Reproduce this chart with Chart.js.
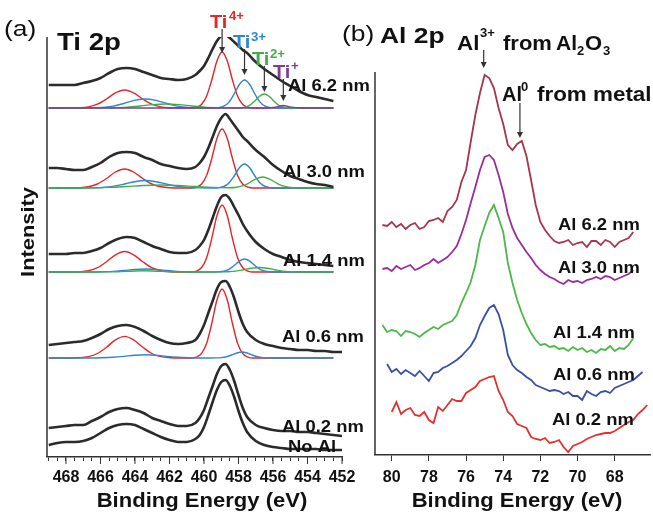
<!DOCTYPE html>
<html lang="en">
<head>
<meta charset="UTF-8" />
<title>Ti 2p / Al 2p XPS</title>
<script src="https://cdn.jsdelivr.net/npm/chart.js"></script>
<style>
  body { margin:0; background:#fff; width:653px; height:512px; overflow:hidden; position:relative; }
  #wrapA { position:absolute; left:0; top:0; width:380px; height:512px; }
  #wrapB { position:absolute; left:340px; top:0; width:313px; height:512px; }
</style>
</head>
<body>
<div id="wrapA"><canvas id="tiChart" width="380" height="512"></canvas></div>
<div id="wrapB"><canvas id="alChart" width="313" height="512"></canvas></div>

<script>
  // ---------- (a) Ti 2p : measured spectra, offset for each Al thickness ----------
  const TI_E = [469,468.5,468,467.5,467,466.5,466,465.5,465,464.5,464,463.5,463,462.5,462,461.5,461,460.5,
    460.25,460,459.75,459.5,459.25,459,458.75,458.5,458.25,458,457.75,457.5,
    457,456.5,456,455.5,455,454.5,454,453.5,453,452.5,452];

  const ti62 = [372,372,372,372,374,376,379,384,388,389,388,385,382,379,378,377,378,382,386,391,399,408,416,421,422,419,415,411,407,404,395,388,382,376,371,366,362,360,358,356,null];
  const ti30 = [289,289,288,287,287,290,294,300,304,305,304,300,297,293,291,289,288,290,294,300,309,320,331,339,343,338,332,326,320,316,307,300,292,286,281,278,275,273,272,270,null];
  const ti14 = [203,203,203,204,204,206,209,214,218,220,219,215,211,208,205,204,204,207,211,217,227,239,251,260,262,258,250,242,233,226,215,208,203,200,197,195,194,193,192,191,null];
  const ti06 = [112,113,114,115,116,119,123,128,131,132,130,126,121,117,114,113,114,117,123,132,144,156,168,175,176,170,159,145,133,125,117,113,111,109,108,107,107,106,106,105,105];
  const ti02 = [29,30,31,32,32,36,40,45,48,49,47,44,39,36,33,31,31,34,39,47,59,71,83,91,93,87,76,62,49,40,32,29,27,26,26,25,25,24,23,22,21];
  const tiNoAl = [12,14,15,15,16,19,24,29,32,33,32,28,24,20,17,15,15,18,22,30,42,55,67,75,77,71,60,46,34,25,16,12,10,9,8,8,8,8,7,7,7];

  // fitted components [energy, intensity]
  const fit62Red = [[469,349],[467.75,349],[467.23,349.2],[466.7,350.1],[466.18,352.8],[465.65,358],[465.13,364.1],[464.6,367],[464.08,364.1],[463.55,358],[463.03,352.8],[462.5,350.1],[461.98,349.2],[461.45,349],[460.75,349],[460.45,349.7],[460.15,352.5],[459.85,360.8],[459.55,377],[459.25,396],[458.95,405],[458.65,396],[458.35,377],[458.05,360.8],[457.75,352.5],[457.45,349.7],[457.15,349],[452.5,349]];
  const fit62Blue = [[469,349],[467.15,349],[466.53,349.1],[465.9,349.6],[465.28,350.9],[464.65,353.5],[464.03,356.6],[463.4,358],[462.78,356.6],[462.15,353.5],[461.53,350.9],[460.9,349.6],[460.28,349.1],[459.65,349],[459.45,349],[459.15,349.4],[458.85,350.8],[458.55,354.9],[458.25,363],[457.95,372.5],[457.65,377],[457.35,372.5],[457.05,363],[456.75,354.9],[456.45,350.8],[456.15,349.4],[455.85,349],[452.5,349]];
  const fit62Green = [[469,349],[466.7,349],[465.95,349.1],[465.2,349.3],[464.45,349.8],[463.7,351],[462.95,352.4],[462.2,353],[461.45,352.4],[460.7,351],[459.95,349.8],[459.2,349.3],[458.45,349.1],[458.15,349],[457.88,349.2],[457.6,349.9],[457.33,351.9],[457.05,356],[456.78,360.8],[456.5,363],[456.23,360.8],[455.95,356],[455.68,351.9],[455.4,349.9],[455.13,349.2],[454.85,349],[452.5,349]];
  const fit62Purple = [[469,349],[456.6,349],[456.3,349.2],[456,349.6],[455.7,350.4],[455.4,351.5],[455.1,350.4],[454.8,349.6],[454.5,349.2],[454.2,349],[452.5,349]];

  const fit30Red = [[469,269],[467.75,269],[467.23,269.2],[466.7,270.2],[466.18,273],[465.65,278.5],[465.13,285],[464.6,288],[464.08,285],[463.55,278.5],[463.03,273],[462.5,270.2],[461.98,269.2],[461.45,269],[460.75,269],[460.45,269.8],[460.15,272.7],[459.85,281.4],[459.55,298.5],[459.25,318.6],[458.95,328],[458.65,318.6],[458.35,298.5],[458.05,281.4],[457.75,272.7],[457.45,269.8],[457.15,269],[452.5,269]];
  const fit30Blue = [[469,269],[467.15,269],[466.53,269.1],[465.9,269.5],[465.28,270.6],[464.65,272.8],[464.03,275.3],[463.4,276.5],[462.78,275.3],[462.15,272.8],[461.53,270.6],[460.9,269.5],[460.28,269.1],[459.65,269],[459.45,269],[459.15,269.3],[458.85,270.5],[458.55,274],[458.25,281],[457.95,289.2],[457.65,293],[457.35,289.2],[457.05,281],[456.75,274],[456.45,270.5],[456.15,269.3],[455.85,269],[452.5,269]];
  const fit30Green = [[469,269],[467.5,269],[466.5,269.2],[465.5,269.6],[464.5,270.5],[463.5,271.5],[462.5,272],[461.5,271.5],[460.5,270.5],[459.5,269.6],[458.5,269.3],[458.1,269.8],[457.73,271.3],[457.35,274.5],[456.98,278.2],[456.6,280],[456.23,278.2],[455.85,274.5],[455.48,271.3],[455.1,269.7],[454.73,269.1],[454.35,269],[452.5,269]];

  const fit14Red = [[469,185],[467.75,185],[467.23,185.3],[466.7,186.3],[466.18,189.3],[465.65,195.3],[465.13,202.2],[464.6,205.5],[464.08,202.2],[463.55,195.3],[463.03,189.3],[462.5,186.3],[461.98,185.3],[461.45,185],[460.75,185],[460.45,185.9],[460.15,189.2],[459.85,199.1],[459.55,218.5],[459.25,241.3],[458.95,252],[458.65,241.3],[458.35,218.5],[458.05,199.1],[457.75,189.2],[457.45,185.9],[457.15,185],[452.5,185]];
  const fit14Blue = [[469,185],[467.15,185],[466.53,185],[465.9,185.2],[465.28,185.6],[464.65,186.5],[464.03,187.5],[463.4,188],[462.78,187.5],[462.15,186.5],[461.53,185.6],[460.9,185.2],[460.28,185],[459.65,185],[459.45,185],[459.15,185.2],[458.85,185.8],[458.55,187.7],[458.25,191.5],[457.95,195.9],[457.65,198],[457.35,195.9],[457.05,191.5],[456.75,187.7],[456.45,185.8],[456.15,185.2],[455.85,185],[452.5,185]];
  const fit14Green = [[469,185],[466.5,185],[465.75,185.1],[465,185.3],[464.25,185.8],[463.5,186.3],[462.75,185.8],[462,185.3],[461.25,185.1],[460.5,185],[459.5,185],[459.05,185.1],[458.6,185.3],[458.15,185.9],[457.7,187.3],[457.25,188.8],[456.8,189.5],[456.35,188.8],[455.9,187.3],[455.45,185.9],[455,185.3],[454.55,185.1],[454.1,185],[452.5,185]];

  const fit06Red = [[469,99],[467.75,99],[467.23,99.3],[466.7,100.4],[466.18,103.5],[465.65,109.8],[465.13,117.1],[464.6,120.6],[464.08,117.1],[463.55,109.8],[463.03,103.5],[462.5,100.4],[461.98,99.3],[461.45,99],[460.75,99],[460.45,99.9],[460.15,103.3],[459.85,113.5],[459.55,133.5],[459.25,157],[458.95,168],[458.65,157],[458.35,133.5],[458.05,113.5],[457.75,103.3],[457.45,99.9],[457.15,99],[452.5,99]];
  const fit06Blue = [[469,99],[467.15,99],[466.53,99],[465.9,99.2],[465.28,99.7],[464.65,100.6],[464.03,101.8],[463.4,102.3],[462.78,101.8],[462.15,100.6],[461.53,99.7],[460.9,99.2],[460.28,99],[459.9,99],[459.6,99],[459.3,99.1],[459,99.4],[458.7,100.3],[458.4,102],[458.1,104],[457.8,105],[457.5,104],[457.2,102],[456.9,100.3],[456.6,99.4],[456.3,99.1],[456,99],[452.5,99]];

  const TI_TICKS = [468,466,464,462,460,458,456,454,452];

  // ---------- (b) Al 2p ----------
  const AL_E = [80.75,80.5,80.25,80,79.75,79.5,79.25,79,78.75,78.5,78.25,78,77.75,77.5,77.25,77,76.75,76.5,76.25,76,
    75.75,75.5,75.25,75,74.75,74.5,74.25,74,73.75,73.5,73.25,73,72.75,72.5,72.25,72,71.75,71.5,71.25,71,
    70.75,70.5,70.25,70,69.75,69.5,69.25,69,68.75,68.5,68.25,68,67.75,67.5,67.25,67,66.75,66.5,66.25];

  const al62 = [null,230,229,233,228,231,226,230,232,226,228,234,235,237,233,244,248,255,273,285,313,340,362,380,377,367,347,331,310,305,311,314,299,275,250,233,225,219,214,212,213,215,210,212,213,208,214,214,210,215,213,208,213,215,217,223,null,null,null];
  const al30 = [null,186,187,184,189,186,188,190,185,187,190,192,196,192,195,198,203,209,221,235,252,268,285,298,300,295,280,263,241,227,217,210,203,197,190,185,181,178,176,173,171,175,173,174,172,175,176,178,176,179,178,175,177,179,181,185,null,null,null];
  const al14 = [null,130,123,125,124,119,124,123,121,118,122,125,128,126,130,132,134,140,152,162,173,190,215,229,242,250,237,223,192,172,155,142,131,122,115,110,111,108,109,106,107,104,108,105,107,103,105,102,106,105,109,104,107,106,110,117,null,null,null];
  const al06 = [null,null,91,83,86,81,85,82,79,84,79,74,82,83,87,89,92,95,99,104,109,117,130,139,147,150,141,125,100,90,85,82,78,75,70,68,66,64,65,64,61,63,59,59,55,64,61,59,63,64,62,67,69,71,73,75,79,83,null];
  const al02 = [null,null,null,43,53,41,45,47,40,39,43,35,32,48,44,50,56,54,54,62,65,68,74,76,78,79,64,55,43,39,31,29,27,18,16,15,17,12,13,15,8,3,9,11,13,16,18,20,21,22,22,24,27,30,33,35,41,45,50];

  const AL_TICKS = [80,78,76,74,72,70,68];

  // ---------- helpers ----------
  const FONT = '"Liberation Sans", Arial, sans-serif';
  const xy = (xs, ys) => xs.map((x, i) => ({ x: x, y: ys[i] }));
  const pairs = arr => arr.map(p => ({ x: p[0], y: p[1] }));

  function txt(ctx, s, x, y, size, bold, color, sx, align, rot) {
    ctx.save();
    ctx.font = (bold ? 'bold ' : '') + size + 'px ' + FONT;
    ctx.fillStyle = color || '#111';
    ctx.textAlign = align || 'left';
    ctx.textBaseline = 'alphabetic';
    ctx.translate(x, y);
    if (rot) ctx.rotate(rot);
    ctx.scale(sx || 1, 1);
    ctx.fillText(s, 0, 0);
    ctx.restore();
  }
  function line(ctx, x1, y1, x2, y2, color, w) {
    ctx.save();
    ctx.strokeStyle = color; ctx.lineWidth = w;
    ctx.beginPath(); ctx.moveTo(x1, y1); ctx.lineTo(x2, y2); ctx.stroke();
    ctx.restore();
  }
  function arrow(ctx, x, y1, y2) {
    line(ctx, x, y1, x, y2 - 5, '#333', 1.2);
    ctx.save();
    ctx.fillStyle = '#333';
    ctx.beginPath(); ctx.moveTo(x - 3, y2 - 6); ctx.lineTo(x + 3, y2 - 6); ctx.lineTo(x, y2); ctx.closePath(); ctx.fill();
    ctx.restore();
  }

  function spec(data, color, w, order, smooth) {
    return { data: data, borderColor: color, borderWidth: w, order: order, pointRadius: 0,
             tension: smooth ? 0.4 : 0, cubicInterpolationMode: smooth ? 'monotone' : 'default', spanGaps: false };
  }

  const RED = '#e3262a', BLUE = '#2e86cf', GREEN = '#3fae49', PURPLE = '#7d3c98', INK = '#2b2b2b';

  // ---------- chart (a) ----------
  const tiDecor = {
    id: 'tiDecor',
    afterDraw(chart) {
      const { ctx, chartArea: a, scales: { x } } = chart;
      line(ctx, a.left, a.top, a.left, a.bottom, '#333', 1.5);
      TI_TICKS.forEach(v => { const px = x.getPixelForValue(v); line(ctx, px, a.bottom, px, a.bottom + 7, '#333', 1); });

      txt(ctx, '(a)', 4, 36, 22, false, '#111', 1.2);
      txt(ctx, 'Ti 2p', 57, 50, 23, true, '#111', 1.2);

      txt(ctx, 'Ti', 210, 28, 19, true, RED, 1.05);    txt(ctx, '4+', 229, 20, 12, true, RED, 1.1);
      txt(ctx, 'Ti', 233, 48, 19, true, BLUE, 1.05);   txt(ctx, '3+', 251, 41, 12, true, BLUE, 1.1);
      txt(ctx, 'Ti', 252, 65, 19, true, GREEN, 1.05);  txt(ctx, '2+', 270, 58, 12, true, GREEN, 1.1);
      txt(ctx, 'Ti', 273, 78, 19, true, PURPLE, 1.05); txt(ctx, '+', 291, 70, 12, true, PURPLE, 1.1);

      arrow(ctx, x.getPixelForValue(458.95), 29, 53);
      arrow(ctx, x.getPixelForValue(457.65), 49, 75);
      arrow(ctx, x.getPixelForValue(456.5), 66, 92);
      arrow(ctx, x.getPixelForValue(455.4), 79, 101);

      [['Al 6.2 nm', 288, 91], ['Al 3.0 nm', 283, 177], ['Al 1.4 nm', 283, 266],
       ['Al 0.6 nm', 282, 342], ['Al 0.2 nm', 282, 432], ['No Al', 288, 452]]
        .forEach(l => txt(ctx, l[0], l[1], l[2], 16, true, '#111', 1.15));

      txt(ctx, 'Binding Energy (eV)', 202, 507, 21, true, '#111', 1.05, 'center');
      txt(ctx, 'Intensity', 34, 232, 19, true, '#111', 1.15, 'center', -Math.PI / 2);
    }
  };

  const tiSets = [];
  const addTi = (d, c, w, smooth) => tiSets.push(spec(d, c, w, 0, smooth));
  [[fit62Red, fit62Blue, fit62Green, fit62Purple], [fit30Red, fit30Blue, fit30Green],
   [fit14Red, fit14Blue, fit14Green], [fit06Red, fit06Blue]].forEach(set => {
    const cols = [RED, BLUE, GREEN, PURPLE];
    set.forEach((f, i) => addTi(pairs(f), cols[i], 1.4, true));
  });
  [ti62, ti30, ti14, ti06, ti02, tiNoAl].forEach(s => addTi(xy(TI_E, s), INK, 2.6, true));
  tiSets.forEach((d, i) => { d.order = tiSets.length - i; });

  new Chart(document.getElementById('tiChart'), {
    type: 'line',
    data: { datasets: tiSets },
    options: {
      responsive: false, animation: false,
      layout: { padding: { left: 47, right: 38, top: 37, bottom: 0 }, autoPadding: false },
      plugins: { legend: { display: false }, tooltip: { enabled: false } },
      scales: {
        x: {
          type: 'linear', reverse: true, min: 452, max: 469.1,
          afterFit: s => { s.height = 55; },
          border: { display: true, color: '#333', width: 1.5 },
          grid: { drawOnChartArea: false, drawTicks: true, tickLength: 4, tickColor: '#333', tickWidth: 1 },
          ticks: { stepSize: 0.5, autoSkip: false, maxRotation: 0, includeBounds: false, padding: 7, color: '#111',
                   font: { family: FONT, size: 16, weight: 'bold' },
                   callback: v => (TI_TICKS.includes(v) ? v : '') }
        },
        y: { display: false, min: 0, max: 420 }
      }
    },
    plugins: [tiDecor]
  });

  // ---------- chart (b) ----------
  const alDecor = {
    id: 'alDecor',
    afterDraw(chart) {
      const { ctx, chartArea: a, scales: { x } } = chart;
      const o = 340; // canvas offset on the page
      line(ctx, a.left, a.top, a.left, a.bottom, '#333', 1.5);

      txt(ctx, '(b)', 342 - o, 41, 22, false, '#111', 1.2);
      txt(ctx, 'Al 2p', 380 - o, 43, 22, true, '#111', 1.2);

      txt(ctx, 'Al', 457 - o, 50, 20, true, '#111', 1.12);
      txt(ctx, '3+', 480 - o, 37, 13, true, '#111', 1.0);
      txt(ctx, 'from', 503 - o, 50, 20, true, '#111', 1.1);
      txt(ctx, 'Al', 556 - o, 50, 20, true, '#111', 1.05);
      txt(ctx, '2', 577 - o, 55, 13, true, '#111', 1.0);
      txt(ctx, 'O', 585 - o, 50, 20, true, '#111', 1.1);
      txt(ctx, '3', 603 - o, 55, 13, true, '#111', 1.0);

      txt(ctx, 'Al', 502 - o, 101, 20, true, '#111', 1.0);
      txt(ctx, '0', 521 - o, 91, 13, true, '#111', 1.0);
      txt(ctx, 'from metal', 537 - o, 101, 20, true, '#111', 1.12);

      arrow(ctx, x.getPixelForValue(75.05), 50, 68);
      arrow(ctx, x.getPixelForValue(73.1), 103, 138);

      [['Al 6.2 nm', 558, 230], ['Al 3.0 nm', 558, 273], ['Al 1.4 nm', 553, 338],
       ['Al 0.6 nm', 553, 380], ['Al 0.2 nm', 552, 425]]
        .forEach(l => txt(ctx, l[0], l[1] - o, l[2], 16, true, '#111', 1.15));

      txt(ctx, 'Binding Energy (eV)', 517 - o, 507, 21, true, '#111', 1.05, 'center');
    }
  };

  new Chart(document.getElementById('alChart'), {
    type: 'line',
    data: {
      datasets: [
        spec(xy(AL_E, al62), '#a8344e', 1.8, 1, false),
        spec(xy(AL_E, al30), '#9b2d9b', 1.8, 2, false),
        spec(xy(AL_E, al14), '#4cb84a', 1.8, 3, false),
        spec(xy(AL_E, al06), '#3a4fa3', 1.8, 4, false),
        spec(xy(AL_E, al02), '#e2312f', 1.8, 5, false)
      ]
    },
    options: {
      responsive: false, animation: false,
      layout: { padding: { left: 35, right: 3, top: 72, bottom: 0 }, autoPadding: false },
      plugins: { legend: { display: false }, tooltip: { enabled: false } },
      scales: {
        x: {
          type: 'linear', reverse: true, min: 66.1, max: 80.9,
          afterFit: s => { s.height = 57; },
          border: { display: true, color: '#333', width: 1.5 },
          grid: { drawOnChartArea: false, drawTicks: true, tickLength: 6, tickColor: '#333', tickWidth: 1 },
          ticks: { stepSize: 2, autoSkip: false, maxRotation: 0, includeBounds: false, padding: 7, color: '#111',
                   font: { family: FONT, size: 16, weight: 'bold' },
                   callback: v => (AL_TICKS.includes(v) ? v : '') }
        },
        y: { display: false, min: 0, max: 383 }
      }
    },
    plugins: [alDecor]
  });
</script>
</body>
</html>
